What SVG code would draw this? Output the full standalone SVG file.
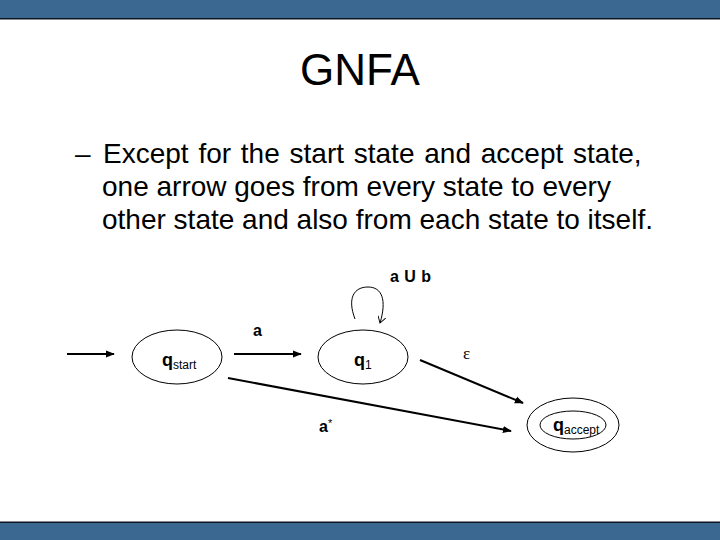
<svg xmlns="http://www.w3.org/2000/svg" width="720" height="540" viewBox="0 0 720 540">
  <style>
    text { font-family: "Liberation Sans", Arial, sans-serif; fill: #000; }
    .title { font-size: 44px; }
    .body { font-size: 28px; }
    .state { fill: none; stroke: #000; stroke-width: 1; }
    .edge { fill: none; stroke: #000; stroke-width: 2; }
    .loop { fill: none; stroke: #000; stroke-width: 1; }
    .q { font-size: 18px; font-weight: bold; }
    .sub { font-size: 12px; }
    .lbl { font-size: 16px; font-weight: bold; }
  </style>
  <defs>
    <marker id="arrow" viewBox="0 0 10 10" refX="9" refY="5" markerWidth="4.5" markerHeight="4.5" orient="auto" markerUnits="strokeWidth">
      <path d="M0,1 L10,5 L0,9 z" fill="#000"/>
    </marker>
    <marker id="open" viewBox="0 0 10 10" refX="9" refY="5" markerWidth="8" markerHeight="8" orient="auto" markerUnits="userSpaceOnUse">
      <path d="M1,0 L9,5 L1,10" fill="none" stroke="#000" stroke-width="1.2"/>
    </marker>
  </defs>

  <rect id="topbar" x="0" y="0" width="720" height="18" fill="#3A6891"/>
  <rect x="0" y="18" width="720" height="1.5" fill="#0E1420"/>
  <rect id="bottombar" x="0" y="522" width="720" height="18" fill="#3A6891"/>
  <rect x="0" y="521.5" width="720" height="1.5" fill="#0E1420"/>

  <text class="title" x="360" y="85" text-anchor="middle">GNFA</text>
  <text class="body" x="75" y="163">–</text>
  <text class="body" x="103" y="163" word-spacing="2">Except for the start state and accept state,</text>
  <text class="body" x="102" y="196">one arrow goes from every state to every</text>
  <text class="body" x="102" y="229">other state and also from each state to itself.</text>

  <g id="connectors">
    <line class="edge" x1="67" y1="354" x2="114" y2="354" marker-end="url(#arrow)"/>
    <line class="edge" x1="234" y1="354" x2="301" y2="354" marker-end="url(#arrow)"/>
    <path class="loop" d="M355,319 C347,298 354,287 368,287 C382,287 387,300 380,323" marker-end="url(#open)"/>
    <line class="edge" x1="420" y1="360" x2="523" y2="403" marker-end="url(#arrow)"/>
    <line class="edge" x1="228" y1="378" x2="511" y2="431" marker-end="url(#arrow)"/>
    <text class="lbl" x="253" y="336">a</text>
    <text class="lbl" x="390" y="282" word-spacing="1">a U b</text>
    <text x="463" y="359" style="font-family:'Liberation Serif','DejaVu Serif',serif;font-size:17px">ε</text>
    <text class="lbl" x="319" y="432">a<tspan dy="-5" style="font-size:11px;font-weight:normal">*</tspan></text>
  </g>

  <g id="q_start">
    <ellipse class="state" cx="177" cy="357" rx="45" ry="27"/>
    <text x="162" y="366"><tspan class="q">q</tspan><tspan class="sub" dy="3">start</tspan></text>
  </g>

  <g id="q_1">
    <ellipse class="state" cx="363" cy="357" rx="45" ry="27"/>
    <text x="354" y="366"><tspan class="q">q</tspan><tspan class="sub" dy="3">1</tspan></text>
  </g>

  <g id="q_accept">
    <ellipse class="state" cx="573" cy="425" rx="46" ry="27"/>
    <ellipse class="state" cx="573" cy="425" rx="33" ry="14"/>
    <text x="553" y="431"><tspan class="q">q</tspan><tspan class="sub" dy="3">accept</tspan></text>
  </g>
</svg>
